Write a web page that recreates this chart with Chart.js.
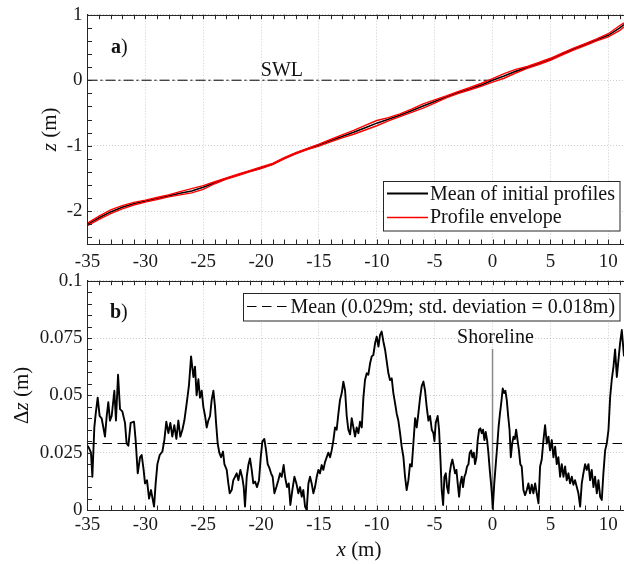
<!DOCTYPE html>
<html><head><meta charset="utf-8">
<script src="https://cdn.jsdelivr.net/npm/chart.js@4.4.1/dist/chart.umd.min.js"></script>
<style>
html,body{margin:0;padding:0;background:#fff;overflow:hidden;width:624px;height:564px;position:relative;}
canvas{position:absolute;left:0;display:block;}
#c1{top:0}
#c2{top:268px}
</style></head><body>
<canvas id="c1" width="627" height="268" style="width:627px;height:268px"></canvas>
<canvas id="c2" width="627" height="296" style="width:627px;height:296px"></canvas>
<script>
// ---------- data ----------
const X_MIN = -35, X_MAX = 11.36;
const xTicks = [-35, -30, -25, -20, -15, -10, -5, 0, 5, 10];
const xTickLabels = ['-35', '-30', '-25', '-20', '-15', '-10', '-5', '0', '5', '10'];
const yTicksA = [-2, -1, 0, 1];
const yTickLabelsA = ['-2', '-1', '0', '1'];
const yTicksB = [0, 0.025, 0.05, 0.075, 0.1];
const yTickLabelsB = ['0', '0.025', '0.05', '0.075', '0.1'];

// panel a) profiles
const xTop = [-35,-34,-33,-32,-31,-30,-29,-28,-27,-26,-25,-24,-23,-22,-21,-20,-19,-18,-17,-16,-15,-14,-13,-12,-11,-10,-9,-8,-7,-6,-5,-4,-3,-2,-1,0,1,2,3,4,5,6,7,8,9,10,11,11.36];
const zMean = [-2.20,-2.10,-2.01,-1.94,-1.885,-1.845,-1.805,-1.765,-1.725,-1.69,-1.635,-1.565,-1.50,-1.445,-1.39,-1.34,-1.28,-1.19,-1.115,-1.05,-0.99,-0.925,-0.86,-0.795,-0.725,-0.655,-0.595,-0.535,-0.465,-0.395,-0.325,-0.255,-0.19,-0.135,-0.075,0.0,0.065,0.135,0.195,0.255,0.32,0.40,0.475,0.545,0.615,0.685,0.80,0.85];
const zUpper = [-2.18,-2.075,-1.98,-1.915,-1.865,-1.83,-1.79,-1.75,-1.70,-1.655,-1.61,-1.55,-1.49,-1.435,-1.38,-1.325,-1.27,-1.18,-1.105,-1.04,-0.975,-0.905,-0.835,-0.765,-0.69,-0.615,-0.57,-0.515,-0.44,-0.36,-0.30,-0.24,-0.175,-0.115,-0.05,0.025,0.10,0.165,0.21,0.27,0.335,0.415,0.49,0.56,0.63,0.71,0.835,0.875];
const zLower = [-2.22,-2.125,-2.035,-1.965,-1.905,-1.86,-1.82,-1.78,-1.75,-1.72,-1.665,-1.58,-1.51,-1.455,-1.40,-1.35,-1.29,-1.20,-1.125,-1.06,-1.005,-0.94,-0.88,-0.825,-0.76,-0.695,-0.62,-0.555,-0.49,-0.425,-0.35,-0.27,-0.205,-0.15,-0.095,-0.03,0.03,0.11,0.18,0.24,0.305,0.385,0.46,0.53,0.60,0.66,0.76,0.815];
const swlX = [-35, 0];
const swlZ = [0, 0];

// panel b) delta z
const xB = [
-35,-34.87,-34.70,-34.58,-34.41,-34.29,-34.12,-33.95,-33.78,-33.63,-33.49,-33.34,-33.20,-33.06,-32.91,-32.68,-32.54,-32.36,-32.19,-31.99,-31.76,-31.62,-31.47,-31.27,-30.98,-30.84,-30.66,-30.46,-30.32,-30.15,-30.03,-29.86,-29.68,-29.51,-29.25,-29.11,-28.96,-28.76,-28.53,-28.36,-28.19,-28.01,-27.84,-27.67,-27.50,-27.32,-27.15,-26.98,-26.80,-26.63,-26.43,-26.23,-26.05,-25.85,
-25.71,-25.57,-25.42,-25.28,-25.13,-24.99,-24.84,-24.70,-24.56,-24.41,-24.27,-24.12,-23.98,-23.89,-23.75,-23.61,-23.46,-23.29,-23.17,-22.97,-22.83,-22.71,-22.54,-22.40,-22.25,-22.11,-21.96,-21.79,-21.62,-21.50,-21.39,-21.24,-21.10,-20.96,-20.81,-20.67,-20.52,-20.35,-20.18,-20.03,-19.89,-19.72,-19.57,-19.43,-19.26,-19.14,-19.00,-18.85,-18.68,-18.51,-18.36,-18.22,-18.05,-17.93,-17.76,-17.61,-17.47,-17.30,-17.12,-16.95,-16.78,-16.63,-16.49,-16.35,-16.20,-16.06,
-15.91,-15.77,-15.63,-15.48,-15.34,-15.19,-15.05,-14.91,-14.76,-14.62,-14.47,-14.33,-14.19,-14.04,-13.90,-13.75,-13.61,-13.47,-13.32,-13.18,-13.03,-12.89,-12.74,-12.60,-12.46,-12.31,-12.17,-12.02,-11.88,-11.74,-11.59,-11.45,-11.30,-11.16,-11.02,-10.87,-10.73,-10.58,-10.44,-10.30,-10.15,-10.01,-9.86,-9.72,-9.58,-9.43,-9.29,-9.14,-9.00,-8.86,-8.71,-8.57,-8.42,-8.28,-8.14,-7.99,-7.85,-7.70,-7.56,-7.42,-7.27,-7.13,-6.98,-6.84,
-6.69,-6.55,-6.41,-6.26,-6.12,-5.97,-5.83,-5.69,-5.54,-5.40,-5.25,-5.11,-5.02,-4.91,-4.74,-4.62,-4.50,-4.39,-4.27,-4.16,-4.04,-3.93,-3.81,-3.70,-3.58,-3.47,-3.35,-3.24,-3.12,-3.01,-2.89,-2.78,-2.66,-2.55,-2.43,-2.32,-2.20,-2.08,-1.97,-1.85,-1.74,-1.62,-1.51,-1.39,-1.28,-1.16,-1.05,-0.93,-0.82,-0.70,-0.59,-0.47,-0.36,-0.24,-0.13,-0.04,0.02,0.15,0.28,0.40,0.52,0.64,0.76,0.88,1.00,1.11,1.23,1.35,1.47,1.58,1.70,1.81,1.93,2.04,2.16,2.28,2.40,
2.52,2.67,2.81,2.96,3.10,3.24,3.39,3.53,3.68,3.82,3.97,4.11,4.25,4.40,4.54,4.69,4.83,4.97,5.12,5.26,5.41,5.55,5.69,5.84,5.98,6.13,6.27,6.41,6.56,6.70,6.85,6.99,7.13,7.28,7.42,7.57,7.71,7.85,8.00,8.14,8.29,8.43,8.57,8.72,8.86,9.01,9.15,9.30,9.44,9.58,9.73,9.87,10.02,10.16,10.30,10.45,10.59,10.74,10.88,11.02,11.17,11.31,11.36];
const dzB = [
0.028,0.027,0.025,0.0145,0.036,0.042,0.049,0.041,0.040,0.036,0.032,0.041,0.047,0.039,0.041,0.052,0.039,0.059,0.044,0.043,0.038,0.029,0.028,0.038,0.0385,0.0305,0.016,0.023,0.024,0.0175,0.0116,0.013,0.005,0.0087,0.0015,0.0116,0.020,0.024,0.0255,0.0305,0.0385,0.0335,0.038,0.032,0.037,0.031,0.039,0.032,0.035,0.039,0.0465,0.0545,0.067,0.058,
0.0625,0.050,0.057,0.049,0.052,0.045,0.041,0.036,0.039,0.041,0.048,0.052,0.045,0.038,0.029,0.025,0.023,0.0255,0.020,0.0175,0.0116,0.0073,0.0087,0.013,0.0145,0.016,0.013,0.0175,0.014,0.010,0.0015,0.0145,0.0196,0.0225,0.0175,0.0116,0.0124,0.010,0.013,0.023,0.0298,0.031,0.026,0.020,0.018,0.016,0.0145,0.0073,0.010,0.013,0.016,0.0145,0.0196,0.0145,0.010,0.0116,0.0022,0.0087,0.0145,0.0116,0.0073,0.010,0.0058,0.0087,0.0015,0.0,
0.0116,0.0145,0.0116,0.0073,0.010,0.0145,0.0175,0.016,0.0196,0.0175,0.021,0.023,0.025,0.023,0.026,0.0305,0.036,0.035,0.042,0.048,0.051,0.056,0.052,0.041,0.035,0.033,0.040,0.036,0.032,0.036,0.0335,0.0385,0.036,0.049,0.0567,0.0596,0.059,0.064,0.067,0.0676,0.0727,0.0756,0.0713,0.0764,0.0778,0.0734,0.070,0.0647,0.0596,0.0567,0.0574,0.051,0.0465,0.042,0.039,0.0335,0.0276,0.023,0.0145,0.0087,0.013,0.020,0.019,0.029,
0.040,0.036,0.042,0.049,0.054,0.056,0.052,0.045,0.039,0.041,0.035,0.0335,0.030,0.038,0.041,0.035,0.022,0.0087,0.0022,0.0145,0.016,0.010,0.0073,0.016,0.020,0.022,0.019,0.016,0.0175,0.0116,0.0058,0.0116,0.0145,0.010,0.0145,0.016,0.019,0.020,0.025,0.026,0.023,0.025,0.020,0.023,0.0305,0.035,0.0356,0.0335,0.035,0.0305,0.034,0.0305,0.025,0.0175,0.0116,0.0058,0.0007,0.0116,0.020,0.0276,0.036,0.042,0.047,0.053,0.051,0.052,0.048,0.041,0.035,0.023,0.029,0.032,0.031,0.035,0.0305,0.026,0.020,
0.019,0.0087,0.0065,0.0087,0.0116,0.0073,0.011,0.0073,0.0116,0.0073,0.0029,0.019,0.022,0.0305,0.037,0.029,0.032,0.026,0.0305,0.023,0.0276,0.020,0.023,0.0145,0.020,0.0145,0.019,0.013,0.016,0.0116,0.0145,0.011,0.013,0.010,0.0073,0.0015,0.0116,0.016,0.020,0.0175,0.020,0.013,0.0175,0.010,0.0145,0.0073,0.013,0.0058,0.0044,0.016,0.026,0.029,0.035,0.049,0.0567,0.0625,0.070,0.058,0.0654,0.0727,0.0785,0.070,0.067];
const meanDz = 0.029;
const shorelineX = [0, 0];
const shorelineY = [0, 0.0702];

// ---------- styling ----------
const SERIF = "'Liberation Serif', 'Times New Roman', serif";
const AXIS = '#262626';
const GRIDC = 'rgba(0,0,0,0.2)';
const TL = 4.5;

const pts = (xs, ys) => xs.map((x, i) => ({x, y: ys[i]}));

function xScaleCfg(pad) {
  return {
    type: 'linear', min: X_MIN, max: X_MAX,
    afterBuildTicks: s => { s.ticks = xTicks.map(v => ({value: v})); },
    afterFit: s => { s.height = 24; s.paddingLeft = 0; s.paddingRight = 0; },
    ticks: { font: {family: SERIF, size: 19, lineHeight: 1}, color: '#1a1a1a', padding: pad, maxRotation: 0, minRotation: 0, autoSkip: false,
      callback: (v, i) => xTickLabels[i] },
    grid: { color: GRIDC, lineWidth: 1, drawTicks: false },
    border: { display: true, color: AXIS, width: 1, dash: [1, 2] }
  };
}
function yScaleCfg(min, max, ticks, labels) {
  return {
    type: 'linear', min, max,
    afterBuildTicks: s => { s.ticks = ticks.map(v => ({value: v})); },
    afterFit: s => { s.width = 87.5; s.paddingTop = 0; s.paddingBottom = 0; },
    ticks: { font: {family: SERIF, size: 19, lineHeight: 1}, color: '#1a1a1a', padding: 5, autoSkip: false,
      callback: (v, i) => labels[i] },
    grid: { color: GRIDC, lineWidth: 1, drawTicks: false },
    border: { display: true, color: AXIS, width: 1, dash: [1, 2] }
  };
}

function drawFrameTicks(chart, yMinor) {
  const {ctx, chartArea: a, scales: {x, y}} = chart;
  ctx.save();
  ctx.strokeStyle = AXIS; ctx.lineWidth = 1; ctx.setLineDash([]);
  ctx.beginPath();
  for (let v = -34; v <= 11; v++) {
    const px = Math.round(x.getPixelForValue(v)) + 0.5;
    ctx.moveTo(px, a.bottom); ctx.lineTo(px, a.bottom - TL);
    ctx.moveTo(px, a.top); ctx.lineTo(px, a.top + TL);
  }
  yMinor.forEach(v => {
    const py = Math.round(y.getPixelForValue(v)) + 0.5;
    ctx.moveTo(a.left, py); ctx.lineTo(a.left + TL, py);
  });
  const ty = Math.round(a.top) + 0.5;
  ctx.moveTo(a.left, ty); ctx.lineTo(a.right, ty);
  ctx.stroke();
  ctx.restore();
}

function rich(ctx, parts, x, y, align) {
  let w = 0;
  parts.forEach(p => { ctx.font = p.f; w += ctx.measureText(p.t).width; });
  let cx = align === 'center' ? x - w / 2 : x;
  ctx.textAlign = 'left';
  parts.forEach(p => { ctx.font = p.f; ctx.fillText(p.t, cx, y); cx += ctx.measureText(p.t).width; });
}

const fR = s => `${s}px ${SERIF}`;
const fI = s => `italic ${s}px ${SERIF}`;
const fB = s => `bold ${s}px ${SERIF}`;

// ---------- chart a ----------
const decorA = {
  id: 'decorA',
  afterDraw(chart) {
    const yMinor = [];
    for (let k = -12; k <= 4; k++) yMinor.push(k * 0.2);
    drawFrameTicks(chart, yMinor.filter(v => v > -2.45 && v < 0.99));
    const {ctx, chartArea: a, scales: {x, y}} = chart;
    ctx.save();
    ctx.fillStyle = '#111'; ctx.textBaseline = 'alphabetic';
    rich(ctx, [{t: 'a', f: fB(20)}, {t: ')', f: fR(20)}], a.left + 23.5, a.top + 38.5, 'left');
    ctx.font = fR(20); ctx.textAlign = 'center';
    ctx.fillText('SWL', x.getPixelForValue(-18.2), y.getPixelForValue(0.06));
    ctx.save();
    ctx.translate(56, (a.top + a.bottom) / 2);
    ctx.rotate(-Math.PI / 2);
    rich(ctx, [{t: 'z', f: fI(21)}, {t: ' (m)', f: fR(21)}], 0, 0, 'center');
    ctx.restore();
    // legend
    const bx = 383.5, by = 181.5, bw = 236.5, bh = 49.5;
    ctx.fillStyle = '#fff'; ctx.fillRect(bx, by, bw, bh);
    ctx.strokeStyle = AXIS; ctx.lineWidth = 1; ctx.setLineDash([]);
    ctx.strokeRect(bx, by, bw, bh);
    ctx.beginPath(); ctx.strokeStyle = '#000'; ctx.lineWidth = 2;
    ctx.moveTo(387, 193.5); ctx.lineTo(428, 193.5); ctx.stroke();
    ctx.beginPath(); ctx.strokeStyle = '#ff0000'; ctx.lineWidth = 1.3;
    ctx.moveTo(387, 217.5); ctx.lineTo(428, 217.5); ctx.stroke();
    ctx.fillStyle = '#111'; ctx.font = fR(20); ctx.textAlign = 'left';
    ctx.fillText('Mean of initial profiles', 430, 199.5);
    ctx.fillText('Profile envelope', 430, 223);
    ctx.restore();
  }
};

new Chart(document.getElementById('c1'), {
  type: 'line',
  data: {
    datasets: [
      { label: 'Profile envelope', data: pts(xTop, zUpper), borderColor: '#ff0000', borderWidth: 1.4, pointRadius: 0, tension: 0, fill: false },
      { label: 'Profile envelope (lower)', data: pts(xTop, zLower), borderColor: '#ff0000', borderWidth: 1.4, pointRadius: 0, tension: 0, fill: false },
      { label: 'Mean of initial profiles', data: pts(xTop, zMean), borderColor: '#000', borderWidth: 1.6, pointRadius: 0, tension: 0, fill: false },
      { label: 'SWL', data: pts(swlX, swlZ), borderColor: '#000', borderWidth: 1, borderDash: [10, 3, 2, 3], pointRadius: 0, tension: 0, fill: false }
    ]
  },
  options: {
    responsive: false, animation: false, devicePixelRatio: 1,
    layout: { padding: { top: 14.7, bottom: 0, left: 0, right: 3 } },
    plugins: { legend: { display: false }, tooltip: { enabled: false } },
    scales: { x: xScaleCfg(9), y: yScaleCfg(-2.5, 1, yTicksA, yTickLabelsA) }
  },
  plugins: [decorA]
});

// ---------- chart b ----------
const decorB = {
  id: 'decorB',
  afterDraw(chart) {
    const yMinor = [];
    for (let k = 1; k < 20; k++) yMinor.push(k * 0.005);
    drawFrameTicks(chart, yMinor);
    const {ctx, chartArea: a, scales: {x, y}} = chart;
    ctx.save();
    ctx.fillStyle = '#111'; ctx.textBaseline = 'alphabetic';
    rich(ctx, [{t: 'b', f: fB(20)}, {t: ')', f: fR(20)}], a.left + 22.5, a.top + 37.3, 'left');
    ctx.font = fR(20); ctx.textAlign = 'center';
    ctx.fillText('Shoreline', x.getPixelForValue(0.25), y.getPixelForValue(0.0727));
    ctx.save();
    ctx.translate(28, (a.top + a.bottom) / 2);
    ctx.rotate(-Math.PI / 2);
    rich(ctx, [{t: '\u0394', f: fR(21)}, {t: 'z', f: fI(21)}, {t: ' (m)', f: fR(21)}], 0, 0, 'center');
    ctx.restore();
    rich(ctx, [{t: 'x', f: fI(21)}, {t: ' (m)', f: fR(21)}], 359, 288, 'center');
    // legend
    const bx = 243.5, by = 25.5, bw = 376.5, bh = 27.5;
    ctx.fillStyle = '#fff'; ctx.fillRect(bx, by, bw, bh);
    ctx.strokeStyle = AXIS; ctx.lineWidth = 1; ctx.setLineDash([]);
    ctx.strokeRect(bx, by, bw, bh);
    ctx.beginPath(); ctx.strokeStyle = '#000'; ctx.lineWidth = 1.2; ctx.setLineDash([9.5, 5.5]);
    ctx.moveTo(247, 38.5); ctx.lineTo(288, 38.5); ctx.stroke();
    ctx.setLineDash([]);
    ctx.fillStyle = '#111'; ctx.font = fR(20); ctx.textAlign = 'left';
    ctx.fillText('Mean (0.029m; std. deviation = 0.018m)', 290.5, 45.3);
    ctx.restore();
  }
};

new Chart(document.getElementById('c2'), {
  type: 'line',
  data: {
    datasets: [
      { label: 'dz', data: pts(xB, dzB), borderColor: '#000', borderWidth: 1.9, pointRadius: 0, tension: 0, fill: false, borderJoinStyle: 'round' },
      { label: 'Mean', data: pts([X_MIN, X_MAX], [meanDz, meanDz]), borderColor: '#000', borderWidth: 1.2, borderDash: [9.5, 5.5], pointRadius: 0, tension: 0, fill: false },
      { label: 'Shoreline', data: pts(shorelineX, shorelineY), borderColor: '#8a8a8a', borderWidth: 1.5, pointRadius: 0, tension: 0, fill: false }
    ]
  },
  options: {
    responsive: false, animation: false, devicePixelRatio: 1,
    layout: { padding: { top: 12.7, bottom: 30, left: 0, right: 3 } },
    plugins: { legend: { display: false }, tooltip: { enabled: false } },
    scales: { x: xScaleCfg(5.5), y: yScaleCfg(0, 0.1, yTicksB, yTickLabelsB) }
  },
  plugins: [decorB]
});
</script></body></html>
